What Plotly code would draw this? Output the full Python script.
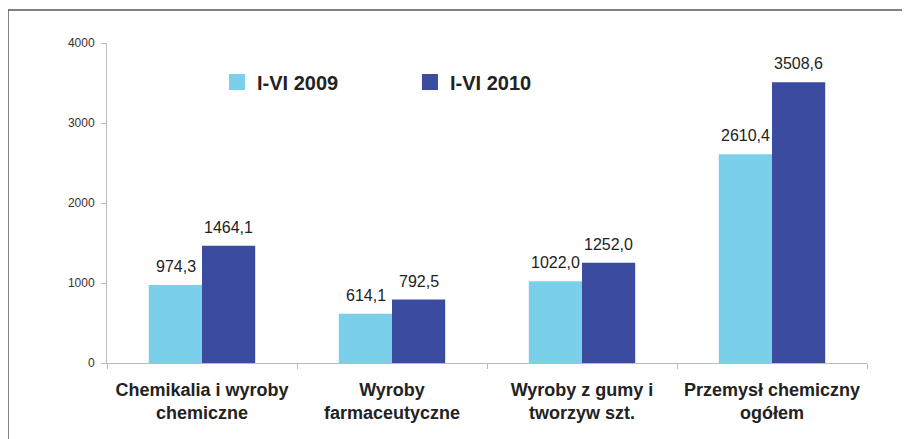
import plotly.graph_objects as go

categories = [
    "Chemikalia i wyroby<br>chemiczne",
    "Wyroby<br>farmaceutyczne",
    "Wyroby z gumy i<br>tworzyw szt.",
    "Przemysł chemiczny<br>ogółem",
]
values_2009 = [974.3, 614.1, 1022.0, 2610.4]
values_2010 = [1464.1, 792.5, 1252.0, 3508.6]
y_ticks = [0, 1000, 2000, 3000, 4000]

LIGHT = "#7ad0ea"
DARK = "#3b4b9f"
FONT = "Liberation Sans, Arial, sans-serif"


def pl(v):
    return f"{v:.1f}".replace(".", ",")


fig = go.Figure()
fig.add_trace(go.Bar(x=categories, y=values_2009, name="I-VI 2009",
                     marker=dict(color=LIGHT, line=dict(width=0)), showlegend=False))
fig.add_trace(go.Bar(x=categories, y=values_2010, name="I-VI 2010",
                     marker=dict(color=DARK, line=dict(width=0)), showlegend=False))

# legend entries with bigger square swatches
for name, col in [("I-VI 2009", LIGHT), ("I-VI 2010", DARK)]:
    fig.add_trace(go.Scatter(x=[None], y=[None], mode="markers", name=name,
                             marker=dict(symbol="square", size=16, color=col)))

# value labels above the bars (comma as decimal separator)
for vals, shift in [(values_2009, -26.5), (values_2010, 26.5)]:
    for c, v in zip(categories, vals):
        fig.add_annotation(x=c, y=v, text=pl(v), showarrow=False,
                           xshift=shift, yanchor="bottom", yshift=8,
                           font=dict(size=16, color="#222", family=FONT))

# frame around the chart (top and left edges visible)
fig.add_shape(type="line", xref="paper", yref="paper",
              x0=-0.1303, x1=1.2, y0=1.103, y1=1.103,
              line=dict(color="#555", width=1.5))
fig.add_shape(type="line", xref="paper", yref="paper",
              x0=-0.1303, x1=-0.1303, y0=1.103, y1=-0.5,
              line=dict(color="#555", width=1.5))

fig.update_layout(
    width=910, height=439,
    margin=dict(l=99, r=51, t=35, b=84),
    paper_bgcolor="white", plot_bgcolor="white",
    font=dict(family=FONT, color="#222"),
    barmode="group", bargap=0.44, bargroupgap=0,
    legend=dict(
        orientation="h", x=0.1447, y=0.878, xanchor="left", yanchor="middle",
        font=dict(size=20, color="#222", family=FONT, weight="bold"),
        bgcolor="rgba(0,0,0,0)", entrywidth=148, entrywidthmode="pixels",
    ),
    xaxis=dict(
        showline=True, linecolor="#bbb", linewidth=1,
        ticks="outside", tickson="boundaries", ticklen=5, tickcolor="#bbb",
        tickfont=dict(size=18, color="#222", weight="bold"),
        ticklabelstandoff=10, showgrid=False,
    ),
    yaxis=dict(
        range=[0, 4000], tickvals=y_ticks,
        showline=True, linecolor="#bbb", linewidth=1,
        ticks="outside", ticklen=5, tickcolor="#bbb",
        tickfont=dict(size=12, color="#333"), ticklabelstandoff=4,
        showgrid=False, zeroline=False,
    ),
)

fig.write_html("out.html")
